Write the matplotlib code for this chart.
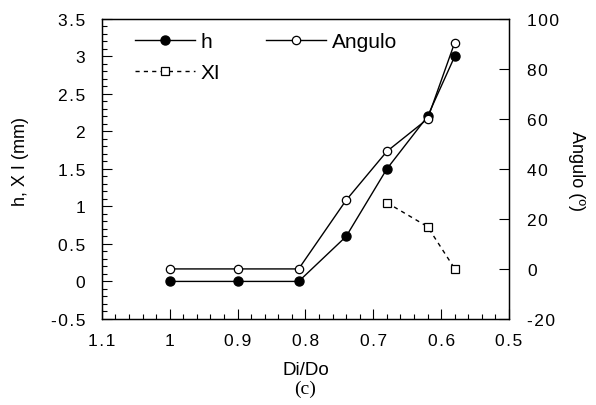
import matplotlib
matplotlib.use("Agg")
import matplotlib.pyplot as plt
from matplotlib.ticker import MultipleLocator, FuncFormatter

plt.rcParams['font.family'] = ['Liberation Sans', 'DejaVu Sans']

di_do = [1.0, 0.9, 0.81, 0.74, 0.68, 0.62, 0.58]
h_vals = [0.0, 0.0, 0.0, 0.6, 1.5, 2.2, 3.0]
angulo = [0.0, 0.0, 0.0, 27.5, 47.0, 60.0, 90.5]
xi_x = [0.68, 0.62, 0.58]
xi_vals = [1.05, 0.73, 0.17]

HS = '\u200a'


def spaced(v, p):
    return HS.join(f"{v:g}")


fig = plt.figure(figsize=(5.96, 4.06), dpi=100)
ax = fig.add_axes([0.171, 0.212, 0.683, 0.739])
ax2 = ax.twinx()

ax.plot(di_do, h_vals, '-', color='black', lw=1.0, marker='o', ms=6.5,
        mfc='black', mec='black', label='h')
ax.plot(xi_x, xi_vals, '--', color='black', lw=1.0, marker='s', ms=5.5,
        mfc='white', mec='black', mew=0.9, label='XI', dashes=(3, 3))
ax2.plot(di_do, angulo, '-', color='black', lw=1.0, marker='o', ms=6,
         mfc='white', mec='black', mew=0.9, label='Angulo')

ax.set_xlim(1.1, 0.5)
ax.set_ylim(-0.5, 3.5)
ax2.set_ylim(-20, 100)

ax.xaxis.set_major_locator(MultipleLocator(0.1))
ax.xaxis.set_minor_locator(MultipleLocator(0.02))
ax.yaxis.set_major_locator(MultipleLocator(0.5))
ax.yaxis.set_minor_locator(MultipleLocator(0.1))
ax2.yaxis.set_major_locator(MultipleLocator(20))

ax.xaxis.set_major_formatter(FuncFormatter(spaced))
ax.yaxis.set_major_formatter(FuncFormatter(spaced))
ax2.yaxis.set_major_formatter(FuncFormatter(spaced))

ax.tick_params(axis='both', which='major', direction='in', length=7, width=0.8,
               labelsize=12.5, top=False, right=False)
ax.tick_params(axis='x', which='major', pad=10)
ax.tick_params(axis='y', which='major', pad=12)
ax.tick_params(axis='both', which='minor', direction='in', length=3.5, width=0.8,
               top=False, right=False)
ax2.tick_params(axis='y', which='major', direction='in', length=7, width=0.8,
                labelsize=12.5, pad=13)

for a in (ax, ax2):
    for s in a.spines.values():
        s.set_linewidth(0.9)

ax.set_xlabel('Di/Do', fontsize=13.5)
ax.xaxis.set_label_coords(0.5, -0.14)
ax.set_ylabel('h, X I (mm)', fontsize=13, va='center')
ax.yaxis.set_label_coords(-0.20, 0.527)
ax2.set_ylabel('Angulo (º)', fontsize=13, rotation=270, va='center')
ax2.yaxis.set_label_coords(1.167, 0.497)

handles = [ax.get_lines()[0], ax.get_lines()[1], ax2.get_lines()[0]]
labels = ['h', 'XI', 'Angulo']
leg = ax.legend(handles, labels, ncol=2, frameon=False, fontsize=15,
                loc='upper left', bbox_to_anchor=(0.081, 0.955),
                borderaxespad=0, borderpad=0,
                handlelength=2.9, handletextpad=0.25, columnspacing=2.2,
                labelspacing=0.55)

fig.text(0.512, 0.041, '(c)', fontsize=14, ha='center', va='center',
         family=['Liberation Serif', 'DejaVu Serif'])

fig.savefig('out.png', dpi=100)
